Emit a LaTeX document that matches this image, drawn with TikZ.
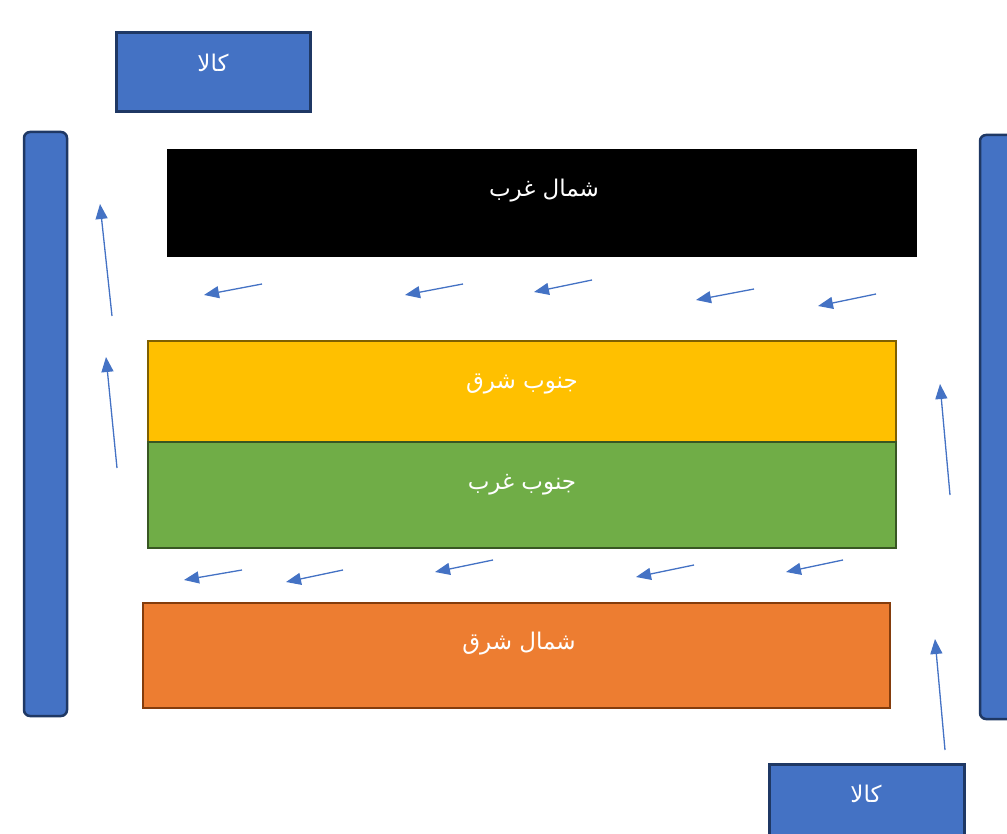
\documentclass[tikz,border=0pt]{standalone}
\usepackage{fontspec}
\usetikzlibrary{arrows.meta}
\TeXXeTstate=1
\newfontfamily\arabicfont[Script=Arabic]{DejaVu Sans}
\definecolor{blu}{HTML}{4472C4}
\definecolor{navy}{HTML}{1F3864}
\definecolor{yel}{HTML}{FFC000}
\definecolor{grn}{HTML}{70AD47}
\definecolor{dgrn}{HTML}{385723}
\definecolor{org}{HTML}{ED7D31}
\definecolor{dorg}{HTML}{843C0C}
\definecolor{dyel}{HTML}{7F6000}
\tikzset{
  bluebox/.style={fill=blu,draw=navy,line width=3pt},
  lbl/.style={text=white,font=\arabicfont\fontsize{23}{26}\selectfont,inner sep=0pt},
  flow/.style={draw=blu,line width=1.3pt,-{Triangle[length=15pt,width=12pt]}}
}
\begin{document}
\begin{tikzpicture}[x=1pt,y=-1pt]
\useasboundingbox (0,0) rectangle (1007,834);
\clip (0,0) rectangle (1007,834);
% blue items
\draw[bluebox] (116,33) rectangle (310,112);
\node[lbl] (k1) at (213,63) {\beginR کالا\endR};
\draw[bluebox] (769,764) rectangle (964,850);
\node[lbl] (k2) at (866,794) {\beginR کالا\endR};
\draw[bluebox,line width=2.5pt,rounded corners=6pt] (24,132) rectangle (67,716);
\draw[bluebox,line width=2.5pt,rounded corners=6pt] (980,135) rectangle (1030,719);
% zones
\fill[black] (167,149) rectangle (917,257);
\node[lbl] (nw) at (544,191) {\beginR شمال غرب\endR};
\draw[fill=yel,draw=dyel,line width=1.5pt] (148,341) rectangle (896,442);
\node[lbl] (se) at (522,384) {\beginR جنوب شرق\endR};
\draw[fill=grn,draw=dgrn,line width=2pt] (148,442) rectangle (896,548);
\node[lbl] (sw) at (522,485) {\beginR جنوب غرب\endR};
\draw[fill=org,draw=dorg,line width=1.5pt] (143,603) rectangle (890,708);
\node[lbl] (ne) at (519,644) {\beginR شمال شرق\endR};
% arrows row 1
\coordinate (a1s) at (262,284); \coordinate (a1e) at (204,295);
\coordinate (a2s) at (463,284); \coordinate (a2e) at (405,295);
\coordinate (a3s) at (592,280); \coordinate (a3e) at (534,292);
\coordinate (a4s) at (754,289); \coordinate (a4e) at (696,300);
\coordinate (a5s) at (876,294); \coordinate (a5e) at (818,306);
\foreach \i in {1,...,5} \draw[flow] (a\i s) -- (a\i e);
% arrows row 2
\coordinate (b1s) at (242,570); \coordinate (b1e) at (184,580);
\coordinate (b2s) at (343,570); \coordinate (b2e) at (286,582);
\coordinate (b3s) at (493,560); \coordinate (b3e) at (435,572);
\coordinate (b4s) at (694,565); \coordinate (b4e) at (636,577);
\coordinate (b5s) at (843,560); \coordinate (b5e) at (786,572);
\foreach \i in {1,...,5} \draw[flow] (b\i s) -- (b\i e);
% vertical arrows
\coordinate (v1s) at (112,316); \coordinate (v1e) at (100,204);
\coordinate (v2s) at (117,468); \coordinate (v2e) at (106,357);
\coordinate (v3s) at (950,495); \coordinate (v3e) at (940,384);
\coordinate (v4s) at (945,750); \coordinate (v4e) at (935,639);
\foreach \i in {1,...,4} \draw[flow] (v\i s) -- (v\i e);
\end{tikzpicture}
\end{document}
